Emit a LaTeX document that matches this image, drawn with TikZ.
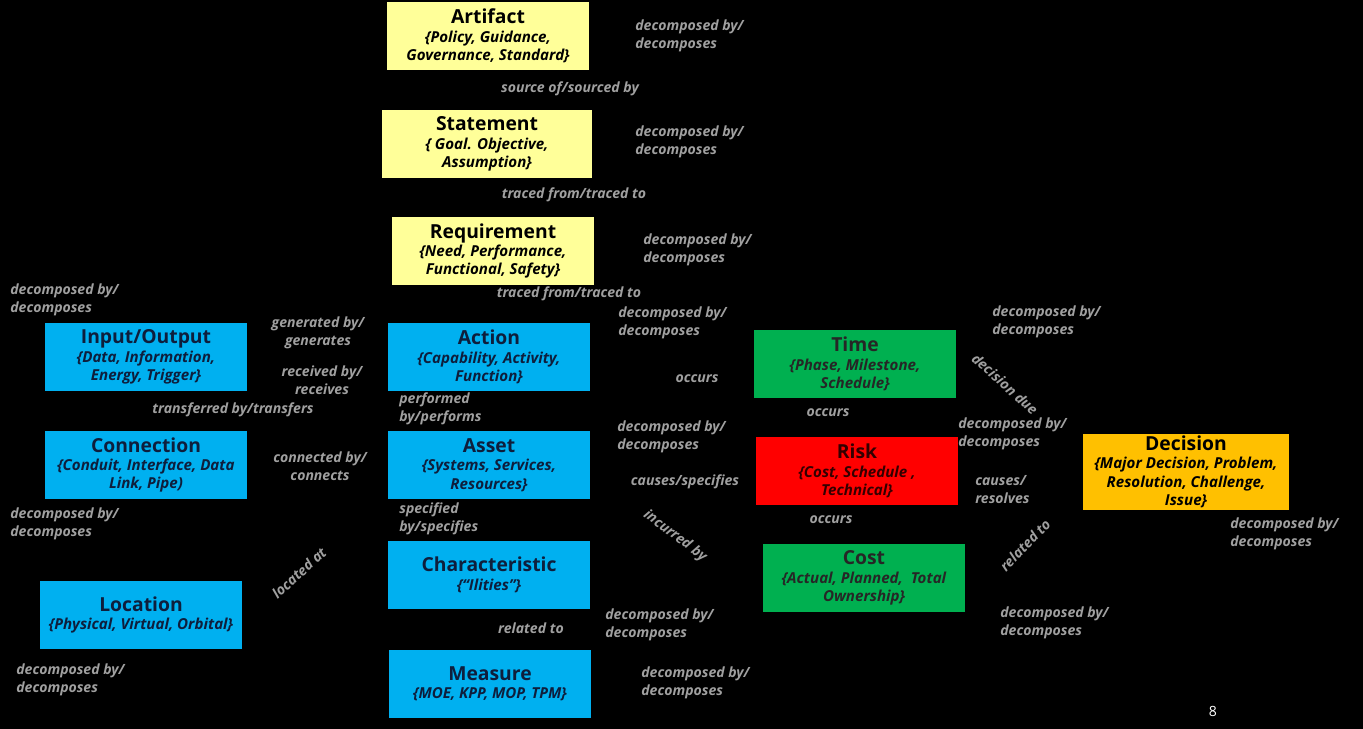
\documentclass[tikz,border=0pt]{standalone}
\usepackage{fontspec}
\setmainfont{Open Sans}
\definecolor{lightyellow}{RGB}{255,255,153}
\definecolor{skyblue}{RGB}{0,176,240}
\definecolor{darkgreen}{RGB}{0,176,80}
\definecolor{riskred}{RGB}{255,0,0}
\definecolor{amber}{RGB}{255,192,0}
\definecolor{navytext}{RGB}{14,30,60}
\definecolor{labelgray}{RGB}{160,160,160}

\begin{document}
\begin{tikzpicture}[x=0.02cm,y=-0.02cm,
    entity/.style={minimum width=4.06cm, minimum height=1.35cm, inner sep=1pt,
      align=center, text=navytext, font=\fontsize{8.6}{10.5}\selectfont\bfseries\itshape},
    yellowbox/.style={entity, fill=lightyellow, text=black},
    bluebox/.style={entity, fill=skyblue},
    greenbox/.style={entity, fill=darkgreen, text=black!85},
    redbox/.style={entity, fill=riskred, text=black!80!red},
    amberbox/.style={entity, fill=amber, text=black},
    lbl/.style={text=labelgray, inner sep=0pt, align=left,
      font=\fontsize{8}{10.2}\selectfont\bfseries\itshape},
    lblc/.style={lbl, align=center}]
\newcommand{\ttl}[1]{{\fontsize{11}{11.5}\selectfont\upshape #1}}

% background
\fill[black] (0,0) rectangle (1363,729);
\useasboundingbox (0,0) rectangle (1363,729);

% entities
\node[yellowbox] (art) at (488,36) {\ttl{Artifact}\\\{Policy, Guidance,\\Governance, Standard\}};
\node[yellowbox, minimum width=4.22cm] (stmt) at (487,144) {\ttl{Statement}\\\{ Goal. Objective,\\Assumption\}};
\node[yellowbox] (req) at (493,251) {\ttl{Requirement}\\\{Need, Performance,\\Functional, Safety\}};
\node[bluebox] (io) at (146,357) {\ttl{Input/Output}\\\{Data, Information,\\Energy, Trigger\}};
\node[bluebox] (act) at (489,357) {\ttl{Action}\\\{Capability, Activity,\\Function\}};
\node[bluebox] (conn) at (146,465) {\ttl{Connection}\\\{Conduit, Interface, Data\\Link, Pipe)};
\node[bluebox] (asset) at (489,465) {\ttl{Asset}\\\{Systems, Services,\\Resources\}};
\node[bluebox] (char) at (489,575) {\ttl{Characteristic}\\\{``Ilities''\}};
\node[bluebox] (meas) at (490,684) {\ttl{Measure}\\\{MOE, KPP, MOP, TPM\}};
\node[bluebox] (loc) at (141,615) {\ttl{Location}\\\{Physical, Virtual, Orbital\}};
\node[greenbox] (time) at (855,364) {\ttl{Time}\\\{Phase, Milestone,\\Schedule\}};
\node[redbox] (risk) at (857,471) {\ttl{Risk}\\\{Cost, Schedule ,\\ Technical\}};
\node[greenbox] (cost) at (864,578) {\ttl{Cost}\\\{Actual, Planned,\ \ Total\\Ownership\}};
\node[amberbox, minimum width=4.14cm, minimum height=1.48cm] (dec) at (1186,472) {\ttl{Decision}\\\{Major Decision, Problem,\\Resolution, Challenge,\\Issue\}};

% relation labels
\node[lbl, anchor=west] (artdec) at (635,36) {decomposed by/\\decomposes};
\node[lblc] (src) at (570,89) {source of/sourced by};
\node[lbl, anchor=west] (stmtdec) at (635,142) {decomposed by/\\decomposes};
\node[lblc] (trc1) at (574,195) {traced from/traced to};
\node[lbl, anchor=west] (reqdec) at (643,250) {decomposed by/\\decomposes};
\node[lblc] (trc2) at (569,294) {traced from/traced to};
\node[lbl, anchor=west] (iodec) at (10,300) {decomposed by/\\decomposes};
\node[lblc] (gen) at (318,333) {generated by/\\generates};
\node[lblc] (rcv) at (322,380) {received by/\\receives};
\node[lblc] (trf) at (233,410) {transferred by/transfers};
\node[lbl, anchor=west] (actdec) at (618,323) {decomposed by/\\decomposes};
\node[lblc] (occ1) at (697,379) {occurs};
\node[lbl, anchor=west] (perf) at (399,409) {performed\\by/performs};
\node[lbl, anchor=west] (assetdec) at (617,437) {decomposed by/\\decomposes};
\node[lblc] (cnx) at (320,466) {connected by/\\connects};
\node[lblc] (cau1) at (685,482) {causes/specifies};
\node[lbl, anchor=west] (spec) at (399,519) {specified\\by/specifies};
\node[lblc, rotate=-37] (inc) at (675,536) {incurred by};
\node[lbl, anchor=west] (conndec) at (10,524) {decomposed by/\\decomposes};
\node[lblc, rotate=42] (locat) at (299,573) {located at};
\node[lblc] (rel1) at (531,628) {related to};
\node[lbl, anchor=west] (chardec) at (605,625) {decomposed by/\\decomposes};
\node[lbl, anchor=west] (measdec) at (641,683) {decomposed by/\\decomposes};
\node[lbl, anchor=west] (locdec) at (16,680) {decomposed by/\\decomposes};
\node[lbl, anchor=west] (timedec) at (992,322) {decomposed by/\\decomposes};
\node[lblc, rotate=-42] (due) at (1005,384) {decision due};
\node[lblc] (occ2) at (828,413) {occurs};
\node[lbl, anchor=west] (riskdec) at (958,434) {decomposed by/\\decomposes};
\node[lbl, anchor=west] (cau2) at (975,490) {causes/\\resolves};
\node[lblc] (occ3) at (831,520) {occurs};
\node[lblc, rotate=46] (rel2) at (1025,545) {related to};
\node[lbl, anchor=west] (costdec) at (1000,623) {decomposed by/\\decomposes};
\node[lbl, anchor=west] (decdec) at (1230,534) {decomposed by/\\decomposes};

% page number
\node[text=white, font=\fontsize{8}{10}\selectfont] (page) at (1213,711) {8};
\end{tikzpicture}
\end{document}
